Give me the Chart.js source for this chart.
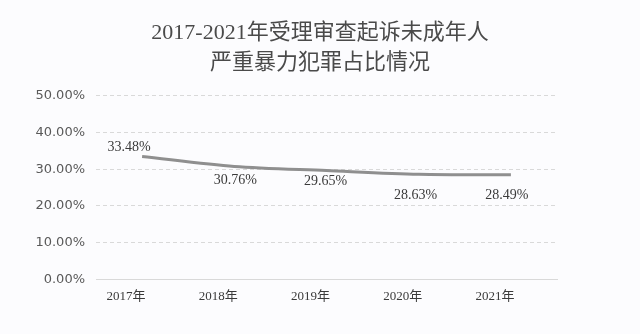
<!DOCTYPE html>
<html lang="zh">
<head>
    <meta charset="UTF-8">
    <title>2017-2021年受理审查起诉未成年人严重暴力犯罪占比情况</title>
    <script src="https://cdn.jsdelivr.net/npm/chart.js"></script>
    <style>
        html, body { margin: 0; padding: 0; background: #fcfcfe; }
        #wrap { width: 640px; height: 334px; }
    </style>
</head>
<body>
<div id="wrap"><canvas id="c" width="640" height="334"></canvas></div>
<script>
    // data
    const years = ['2017年', '2018年', '2019年', '2020年', '2021年'];
    const shares = [33.48, 30.76, 29.65, 28.63, 28.49];
    const titleLines = ['2017-2021年受理审查起诉未成年人', '严重暴力犯罪占比情况'];

    const serif = "'Liberation Serif', 'Noto Sans CJK SC', serif";

    // value labels next to each point (offsets)
    const labelOffsets = [[-13, -9], [1, 14], [-1, 11], [-3, 21], [-4, 21]];
    const valueLabels = {
        id: 'valueLabels',
        afterDatasetsDraw(chart) {
            const ctx = chart.ctx;
            const meta = chart.getDatasetMeta(0);
            ctx.save();
            ctx.font = '14px ' + serif;
            ctx.fillStyle = '#3a3a3a';
            ctx.textAlign = 'center';
            ctx.textBaseline = 'middle';
            meta.data.forEach((pt, i) => {
                const o = labelOffsets[i];
                ctx.fillText(shares[i].toFixed(2) + '%', pt.x + o[0], pt.y + o[1]);
            });
            ctx.restore();
        }
    };

    new Chart(document.getElementById('c'), {
        type: 'line',
        data: {
            labels: years,
            datasets: [{
                data: shares,
                borderColor: '#8f8f8f',
                borderWidth: 3,
                pointRadius: 0,
                tension: 0.3,
                fill: false
            }]
        },
        plugins: [valueLabels],
        options: {
            responsive: false,
            animation: false,
            layout: { padding: { left: 0, right: 0, top: 0, bottom: 29 } },
            plugins: {
                legend: { display: false },
                tooltip: { enabled: false },
                title: {
                    display: true,
                    text: titleLines,
                    color: '#4a4a4a',
                    font: { family: serif, size: 22, weight: 'normal', lineHeight: 1.36 },
                    padding: { top: 18, bottom: 18 }
                }
            },
            scales: {
                x: {
                    offset: true,
                    grid: { display: false },
                    border: { display: true, color: '#d9d9d9', width: 1 },
                    ticks: {
                        color: '#3a3a3a',
                        font: { family: serif, size: 13 },
                        padding: 1,
                        labelOffset: -16
                    }
                },
                y: {
                    min: 0,
                    max: 50,
                    afterFit(scale) { scale.width = 96; },
                    grid: { color: '#d9d9d9', drawTicks: false },
                    border: { display: false, dash: [4, 3] },
                    ticks: {
                        stepSize: 10,
                        padding: 11,
                        color: '#595959',
                        font: { family: "'DejaVu Sans', sans-serif", size: 13 },
                        callback: v => v.toFixed(2) + '%'
                    }
                },
                // empty right-hand axis, only reserves the blank margin
                spacer: {
                    position: 'right',
                    afterFit(scale) { scale.width = 83; },
                    grid: { display: false },
                    border: { display: false },
                    ticks: { display: false }
                }
            }
        }
    });
</script>
</body>
</html>
